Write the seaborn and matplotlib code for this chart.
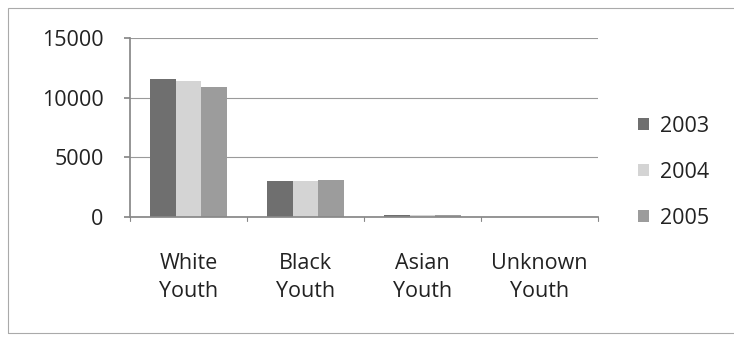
import matplotlib
matplotlib.use("Agg")
import matplotlib.pyplot as plt
import seaborn as sns
import pandas as pd
from matplotlib.patches import Rectangle

categories = ["White\nYouth", "Black\nYouth", "Asian\nYouth", "Unknown\nYouth"]
years = ["2003", "2004", "2005"]
v2003 = [11600, 3000, 140, 30]
v2004 = [11400, 3050, 150, 30]
v2005 = [10900, 3100, 150, 30]
yticks = [0, 5000, 10000, 15000]

sns.set_theme(style="white")
plt.rcParams['font.family'] = ['Open Sans', 'DejaVu Sans']

rows = []
for y, vals in zip(years, [v2003, v2004, v2005]):
    for c, v in zip(categories, vals):
        rows.append({"cat": c, "year": y, "val": v})
df = pd.DataFrame(rows)

FS = 15.5
fig = plt.figure(figsize=(7.34, 3.37), dpi=100)
fig.patch.set_facecolor("white")
ax = fig.add_axes([130/734, 1 - 217/337, (598-130)/734, (217-38)/337])

palette = ["#6f6f6f", "#d4d4d4", "#9c9c9c"]
sns.barplot(data=df, x="cat", y="val", hue="year", palette=palette, ax=ax,
            width=0.65, saturation=1, gap=0, edgecolor="none")

ax.set_ylim(0, 15000)
ax.set_yticks(yticks)
ax.set_yticklabels([str(t) for t in yticks], fontsize=FS, color="#222222")
ax.set_xlim(-0.5, 3.5)
ax.set_xticks(range(len(categories)))
ax.set_xticklabels(categories, fontsize=FS, color="#222222", linespacing=1.45)
ax.tick_params(axis="x", length=0, pad=26)
ax.set_xlabel("")
ax.set_ylabel("")
ax.yaxis.grid(True, color="#9a9a9a", linewidth=0.8)
ax.set_axisbelow(True)
for s in ["top", "right"]:
    ax.spines[s].set_visible(False)
ax.spines["left"].set_color("#888888")
ax.spines["bottom"].set_color("#888888")
ax.tick_params(axis="y", length=4, color="#888888", left=True, pad=15)
# category boundary tick marks
for xb in [-0.5, 0.5, 1.5, 2.5, 3.5]:
    ax.plot([xb, xb], [0, -300], color="#888888", linewidth=0.8, clip_on=False)

leg = ax.legend(loc="center left", bbox_to_anchor=(1.045, 0.25), frameon=False,
                fontsize=FS, handlelength=0.5, handleheight=0.5, labelspacing=1.15,
                handletextpad=0.5)
for t in leg.get_texts():
    t.set_color("#222222")

fig.add_artist(Rectangle((8/734, 4/337), (740-8)/734, (329-4)/337,
                         transform=fig.transFigure, fill=False,
                         edgecolor="#aaaaaa", linewidth=0.8, clip_on=False))

fig.savefig("out.png", dpi=100, facecolor="white")
